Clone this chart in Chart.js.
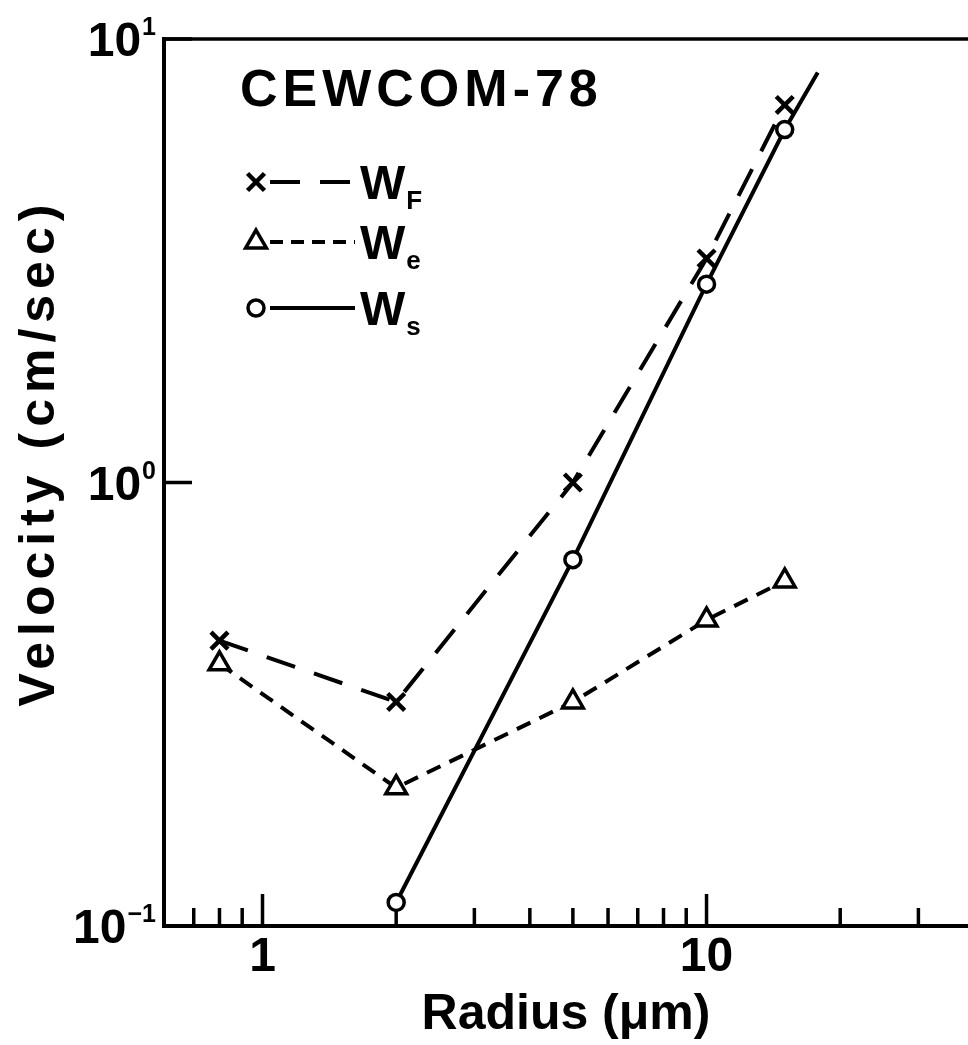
<!DOCTYPE html>
<html>
<head>
<meta charset="utf-8">
<script src="https://cdn.jsdelivr.net/npm/chart.js@4.4.1/dist/chart.umd.min.js"></script>
<style>
  html, body { margin: 0; padding: 0; background: #fff; overflow: hidden; }
  canvas { display: block; }
</style>
</head>
<body>
<canvas id="velocityChart" width="968" height="1045"></canvas>
<script>
// values
const radius = [0.8, 2, 5, 10, 15];
const wF = [0.44, 0.32, 1.0, 3.2, 7.1];
const wE = [0.39, 0.205, 0.32, 0.49, 0.6];
const radiusS = [2, 5, 10, 15, 17.8];
const wS = [0.113, 0.67, 2.8, 6.25, 8.4];

const xMajorTicks = [1, 10];
const xMinorTicks = [0.7, 0.8, 0.9, 2, 3, 4, 5, 6, 7, 8, 9, 20, 30];
const yMajorTicks = [0.1, 1, 10];
const yTickExponents = ['\u22121', '0', '1'];

const legendTitle = 'CEWCOM-78';
const seriesNames = ['F', 'e', 's'];

const FONT = '"Liberation Sans", Arial, sans-serif';

const toPoints = (xs, ys) => xs.map((v, i) => ({ x: v, y: ys[i] }));

// frame top line, inward ticks, 10^n labels, legend block
const axisDecor = {
    id: 'axisDecor',
    afterLayout(chart) {
        // the original lettering of the y title is widely spaced and sits a bit high
        const ys = chart.scales.y;
        if (!ys._spaced) {
            const orig = ys.drawTitle;
            ys.drawTitle = function() {
                this.ctx.save();
                this.ctx.letterSpacing = '6px';
                this.ctx.translate(0, -30);
                orig.call(this);
                this.ctx.restore();
            };
            ys._spaced = true;
        }
    },
    beforeDatasetsDraw(chart) {
        const { ctx, chartArea: a, scales: { x, y } } = chart;
        ctx.save();
        ctx.strokeStyle = '#000';
        ctx.lineCap = 'butt';
        ctx.lineWidth = 3.5;
        ctx.beginPath();
        ctx.moveTo(a.left, a.top);
        ctx.lineTo(a.right, a.top);
        ctx.stroke();

        const xTick = (v, len) => {
            const px = x.getPixelForValue(v);
            ctx.beginPath();
            ctx.moveTo(px, a.bottom);
            ctx.lineTo(px, a.bottom - len);
            ctx.stroke();
        };
        xMajorTicks.forEach(v => xTick(v, 32));
        xMinorTicks.forEach(v => xTick(v, 18));

        yMajorTicks.forEach(v => {
            const py = y.getPixelForValue(v);
            ctx.beginPath();
            ctx.moveTo(a.left, py);
            ctx.lineTo(a.left + 28, py);
            ctx.stroke();
        });

        ctx.fillStyle = '#000';
        ctx.textAlign = 'right';
        ctx.textBaseline = 'alphabetic';
        yMajorTicks.forEach((v, i) => {
            const py = y.getPixelForValue(v);
            ctx.font = 'bold 25px ' + FONT;
            const expW = ctx.measureText(yTickExponents[i]).width;
            ctx.fillText(yTickExponents[i], 156, py - 4);
            ctx.font = 'bold 48px ' + FONT;
            ctx.fillText('10', 156 - expW - 1, py + 17);
        });
        ctx.restore();
    },
    afterDatasetsDraw(chart) {
        const ctx = chart.ctx;
        ctx.save();
        ctx.fillStyle = '#000';
        ctx.textAlign = 'left';
        ctx.textBaseline = 'alphabetic';
        ctx.font = 'bold 52px ' + FONT;
        ctx.letterSpacing = '5px';
        ctx.fillText(legendTitle, 240, 106);
        ctx.letterSpacing = '0px';

        const rowY = [182, 242, 308];
        const legendDash = [[30, 20], [13, 8], []];
        chart.data.datasets.forEach((ds, i) => {
            const yy = rowY[i];
            ctx.strokeStyle = '#000';
            ctx.lineWidth = ds.borderWidth;
            ctx.setLineDash(legendDash[i]);
            ctx.beginPath();
            ctx.moveTo(270, yy);
            ctx.lineTo(355, yy);
            ctx.stroke();
            ctx.setLineDash([]);

            ctx.lineWidth = ds.pointBorderWidth;
            ctx.fillStyle = '#fff';
            const r = Array.isArray(ds.pointRadius) ? ds.pointRadius[0] : ds.pointRadius;
            Chart.helpers.drawPoint(ctx, {
                pointStyle: ds.pointStyle, radius: r, rotation: 0, borderWidth: ds.pointBorderWidth
            }, 256, yy);

            ctx.fillStyle = '#000';
            ctx.font = 'bold 48px ' + FONT;
            ctx.fillText('W', 360, yy + 17);
            const wW = ctx.measureText('W').width;
            ctx.font = 'bold 26px ' + FONT;
            ctx.fillText(seriesNames[i], 360 + wW + 1, yy + 27);
        });
        ctx.restore();
    }
};

const ctx = document.getElementById('velocityChart').getContext('2d');

new Chart(ctx, {
    type: 'line',
    data: {
        datasets: [{
            label: 'WF',
            data: toPoints(radius, wF),
            borderColor: '#000',
            borderWidth: 4,
            borderDash: [30, 20],
            pointStyle: 'crossRot',
            pointRadius: 12,
            pointBorderWidth: 4.5,
            pointBorderColor: '#000',
            pointBackgroundColor: '#fff',
            tension: 0
        }, {
            label: 'We',
            data: toPoints(radius, wE),
            borderColor: '#000',
            borderWidth: 4,
            borderDash: [15, 10],
            pointStyle: 'triangle',
            pointRadius: 12,
            pointBorderWidth: 3.5,
            pointBorderColor: '#000',
            pointBackgroundColor: '#fff',
            tension: 0
        }, {
            label: 'Ws',
            data: toPoints(radiusS, wS),
            borderColor: '#000',
            borderWidth: 4,
            pointStyle: 'circle',
            pointRadius: [8, 8, 8, 8, 0],
            pointBorderWidth: 3.5,
            pointBorderColor: '#000',
            pointBackgroundColor: '#fff',
            tension: 0
        }]
    },
    options: {
        responsive: false,
        animation: false,
        layout: {
            autoPadding: false,
            padding: { top: 39, right: 0, left: 0, bottom: 0 }
        },
        scales: {
            x: {
                type: 'logarithmic',
                position: 'bottom',
                min: 0.6,
                max: 38.8,
                afterBuildTicks: function(scale) {
                    scale.ticks = xMajorTicks.map(v => ({ value: v }));
                },
                afterFit: function(scale) {
                    scale.height = 119;
                    scale.paddingLeft = 0;
                    scale.paddingRight = 0;
                },
                ticks: {
                    autoSkip: false,
                    maxRotation: 0,
                    padding: 3,
                    color: '#000',
                    font: { family: FONT, size: 48, weight: 'bold' },
                    callback: function(value) {
                        return String(value);
                    }
                },
                grid: { display: false, drawTicks: false },
                border: { display: true, width: 4, color: '#000' },
                title: {
                    display: true,
                    text: 'Radius (\u03bcm)',
                    color: '#000',
                    font: { family: FONT, size: 50, weight: 'bold' },
                    padding: { top: 0, bottom: 0 }
                }
            },
            y: {
                type: 'logarithmic',
                min: 0.1,
                max: 10,
                afterFit: function(scale) {
                    scale.width = 164;
                    scale.paddingTop = 0;
                    scale.paddingBottom = 0;
                },
                ticks: { display: false },
                grid: { display: false, drawTicks: false },
                border: { display: true, width: 4, color: '#000' },
                title: {
                    display: true,
                    text: 'Velocity (cm/sec)',
                    color: '#000',
                    font: { family: FONT, size: 50, weight: 'bold' },
                    padding: { top: 10, bottom: 0 }
                }
            }
        },
        plugins: {
            legend: { display: false },
            tooltip: { enabled: false }
        }
    },
    plugins: [axisDecor]
});
</script>
</body>
</html>
